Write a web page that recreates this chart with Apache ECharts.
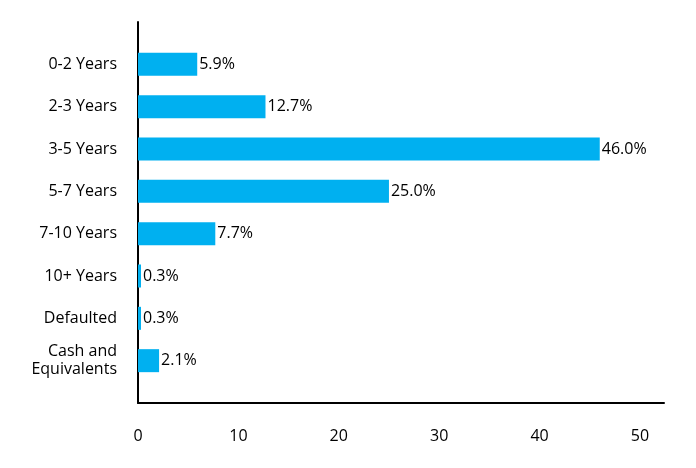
<!DOCTYPE html>
<html>
<head>
<meta charset="utf-8">
<script src="https://cdn.jsdelivr.net/npm/echarts@6/dist/echarts.min.js"></script>
<style>html,body{margin:0;padding:0;background:#fff;}#c{width:696px;height:468px;}</style>
</head>
<body>
<div id="c"></div>
<script>
var categories = ['0-2 Years', '2-3 Years', '3-5 Years', '5-7 Years', '7-10 Years', '10+ Years', 'Defaulted', 'Cash and\nEquivalents'];
var values = [5.9, 12.7, 46.0, 25.0, 7.7, 0.3, 0.3, 2.1];
var xTicks = [0, 10, 20, 30, 40, 50];

// pad with empty slots at both ends so the axis extends beyond the first/last bar
var padCats = [''].concat(categories).concat(['']);
var padVals = ['-'].concat(values).concat(['-']);

var font = '"Open Sans", "Noto Sans", sans-serif';
var chart = echarts.init(document.getElementById('c'));
chart.setOption({
  animation: false,
  grid: { left: 138, right: 32, top: 22, bottom: 65, containLabel: false },
  xAxis: {
    type: 'value', min: 0, max: 52.4, interval: 10,
    splitLine: { show: false },
    axisTick: { show: false },
    axisLine: { show: true, lineStyle: { color: '#000', width: 2 } },
    axisLabel: {
      margin: 25, color: '#000', fontSize: 16, fontFamily: font,
      formatter: function (v) { return xTicks.indexOf(v) >= 0 ? String(v) : ''; }
    }
  },
  yAxis: {
    type: 'category', inverse: true, data: padCats, boundaryGap: false,
    axisTick: { show: false },
    axisLine: { show: true, lineStyle: { color: '#000', width: 2 } },
    axisLabel: { margin: 21, color: '#000', fontSize: 16, fontFamily: font, lineHeight: 18, align: 'right' }
  },
  series: [{
    type: 'bar', data: padVals, barWidth: 23,
    itemStyle: { color: '#00B0F0' },
    label: {
      show: true, position: 'right', distance: 2, color: '#000', fontSize: 16, fontFamily: font,
      formatter: function (p) { return Number(p.value).toFixed(1) + '%'; }
    }
  }]
});
</script>
</body>
</html>
